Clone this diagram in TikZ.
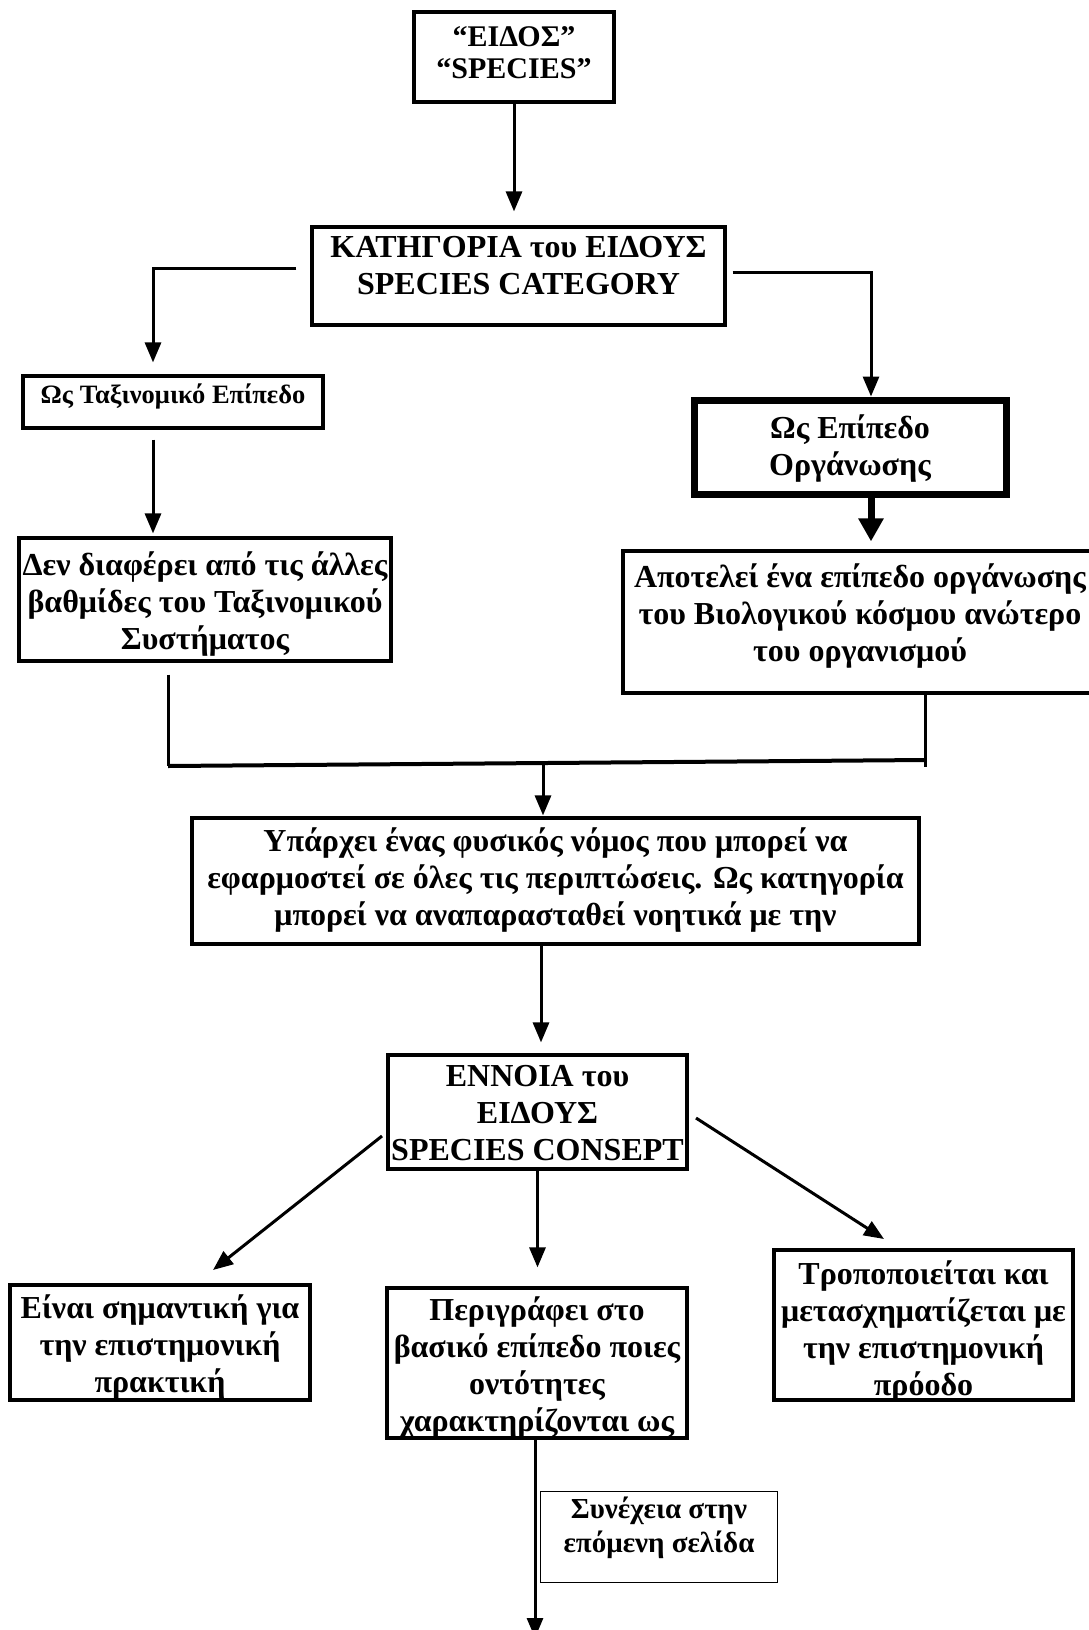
\documentclass[tikz,border=0pt]{standalone}
\usepackage{fontspec}
\setmainfont{Liberation Serif}
\usetikzlibrary{arrows.meta}
\begin{document}
\begin{tikzpicture}[x=1pt,y=-1pt,
  box/.style={draw, line width=3.2pt, inner sep=0pt},
  thickbox/.style={draw, line width=7pt, inner sep=0pt},
  thinbox/.style={draw, line width=1.4pt, inner sep=0pt},
  txt/.style={align=center, inner sep=0pt, font=\bfseries\fontsize{32}{37}\selectfont},
  ttxt/.style={align=center, inner sep=0pt, font=\bfseries\fontsize{30}{32}\selectfont},
  stxt/.style={align=center, inner sep=0pt, font=\bfseries\fontsize{26.5}{34}\selectfont},
  ctxt/.style={align=center, inner sep=0pt, font=\bfseries\fontsize{29}{34}\selectfont},
  conn/.style={line width=3pt},
  arr/.style={line width=3pt, -{Triangle[length=20pt,width=16pt]}},
  bigarr/.style={line width=7pt, -{Triangle[length=23pt,width=24pt]}},
]
\useasboundingbox (0,0) rectangle (1089,1630);

% boxes
\node[box, minimum width=200, minimum height=90] (b1) at (514,57) {};
\node[ttxt] (t1) at ([yshift=4pt]b1.center) {“ΕΙΔΟΣ”\\“SPECIES”};

\node[box, minimum width=413, minimum height=98] (b2) at (518.5,276) {};
\node[txt] (t2) at ([yshift=10pt]b2.center) {ΚΑΤΗΓΟΡΙΑ του ΕΙΔΟΥΣ\\SPECIES CATEGORY};

\node[box, minimum width=300, minimum height=52] (b3) at (173,402) {};
\node[stxt] (t3) at ([yshift=6pt]b3.center) {Ως Ταξινομικό Επίπεδο};

\node[thickbox, minimum width=312, minimum height=94] (b4) at (850,447) {};
\node[txt] (t4) at ([yshift=-2pt]b4.center) {Ως Επίπεδο\\Οργάνωσης};

\node[box, minimum width=372, minimum height=123] (b5) at (205,599.5) {};
\node[txt] (t5) at ([yshift=-5pt]b5.center) {Δεν διαφέρει από τις άλλες\\βαθμίδες του Ταξινομικού\\Συστήματος};

\node[box, minimum width=490, minimum height=142] (b6) at (868,622) {};
\node[txt] (t6) at (860,616) {Αποτελεί ένα επίπεδο οργάνωσης\\του Βιολογικού κόσμου ανώτερο\\του οργανισμού};

\node[box, minimum width=727, minimum height=126] (b7) at (555.5,881) {};
\node[txt] (t7) at ([yshift=1pt]b7.center) {Υπάρχει ένας φυσικός νόμος που μπορεί να\\εφαρμοστεί σε όλες τις περιπτώσεις. Ως κατηγορία\\μπορεί να αναπαρασταθεί νοητικά με την};

\node[box, minimum width=299, minimum height=114] (b8) at (537.5,1112) {};
\node[txt] (t8) at ([yshift=-1pt]b8.center) {ΕΝΝΟΙΑ του\\ΕΙΔΟΥΣ\\SPECIES CONSEPT};

\node[box, minimum width=300, minimum height=115] (b9) at (160,1342.5) {};
\node[txt] (t9) at ([yshift=-4pt]b9.center) {Είναι σημαντική για\\την επιστημονική\\πρακτική};

\node[box, minimum width=300, minimum height=150] (b10) at (537,1363) {};
\node[txt] (t10) at ([yshift=-4pt]b10.center) {Περιγράφει στο\\βασικό επίπεδο ποιες\\οντότητες\\χαρακτηρίζονται ως};

\node[box, minimum width=299, minimum height=150] (b11) at (923.5,1325) {};
\node[txt] (t11) at ([yshift=-6pt]b11.center) {Τροποποιείται και\\μετασχηματίζεται με\\την επιστημονική\\πρόοδο};

\node[thinbox, minimum width=237, minimum height=91] (b12) at (659,1537) {};
\node[ctxt] (t12) at ([yshift=9pt]b12.center) {Συνέχεια στην\\επόμενη σελίδα};

% connectors
\draw[arr, shorten >=14pt] (b1.south) -- (b1.south |- b2.north);
\draw[arr, shorten <=14pt, shorten >=12pt] ([yshift=8pt]b2.west) -| ([xshift=-20pt]b3.north);
\draw[arr, shorten <=6pt] ([yshift=4pt]b2.east) -| ([xshift=21pt]b4.north);
\draw[arr, shorten <=10pt, shorten >=3pt] ([xshift=-20pt]b3.south) -- ([xshift=-20pt]b3.south |- b5.north);
\draw[bigarr, shorten <=-6pt, shorten >=8pt] ([xshift=21pt]b4.south) -- ([xshift=21pt]b4.south |- b6.north);

\coordinate (j1) at (168,766);
\coordinate (j2) at (925,760);
\coordinate (j3) at (925,767);
\coordinate (jm) at (543,762);
\draw[conn, shorten <=12pt] (b5.south -| j1) -- (j1);
\draw[line width=4pt] (j1) -- (j2);
\draw[conn] (b6.south -| j3) -- (j3);
\draw[arr, shorten >=1pt] (jm) -- (jm |- b7.north);

\draw[arr, shorten >=11pt] (b7.south -| 541,0) -- (b8.north -| 541,0);
\coordinate (d1) at (382,1136);
\coordinate (d1e) at (213,1270);
\draw[arr] (d1) -- (d1e);
\draw[arr, shorten >=19pt] (b8.south) -- (b8.south |- b10.north);
\coordinate (d3) at (696,1118);
\coordinate (d3e) at (884,1239);
\draw[arr] (d3) -- (d3e);
\coordinate (endp) at (535,1638);
\draw[arr] (b10.south -| endp) -- (endp);
\end{tikzpicture}
\end{document}
